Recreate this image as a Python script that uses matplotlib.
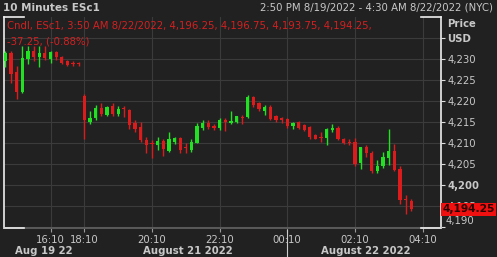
import pandas as pd
import matplotlib
matplotlib.use('Agg')
import matplotlib.pyplot as plt

# 10 minute bars, Friday afternoon then Sunday evening session
fri_times = pd.date_range('2022-08-19 14:50', '2022-08-19 17:00', freq='10min')
sun_times = pd.date_range('2022-08-21 18:10', '2022-08-22 03:50', freq='10min')
bar_times = list(fri_times) + list(sun_times)

opens = [4229.5, 4231.5, 4227.0, 4222.25, 4230.0, 4232.0, 4230.5, 4231.5, 4230.0, 4231.75,
         4230.5, 4229.5, 4229.0, 4229.0, 4221.25, 4215.0, 4216.0, 4218.25, 4216.75, 4218.75,
         4217.0, 4218.25, 4217.75, 4214.75, 4213.75, 4210.75, 4210.0, 4209.5, 4210.5, 4208.0,
         4210.25, 4211.25, 4209.0, 4208.25, 4210.0, 4213.5, 4214.75, 4214.0, 4213.5, 4215.5,
         4214.75, 4215.0, 4216.25, 4216.25, 4221.0, 4219.5, 4217.5, 4218.5, 4216.5, 4216.0,
         4215.75, 4214.0, 4215.0, 4214.25, 4213.75, 4212.0, 4211.5, 4211.25, 4213.0, 4213.5,
         4211.0, 4210.25, 4210.25, 4205.25, 4209.0, 4207.5, 4203.25, 4204.5, 4206.5, 4208.0,
         4203.75, 4196.75, 4196.25]
highs = [4232.0, 4232.0, 4228.25, 4233.0, 4233.0, 4233.0, 4233.0, 4233.0, 4232.0, 4232.0,
         4230.75, 4229.75, 4229.5, 4229.25, 4221.75, 4217.5, 4219.0, 4219.5, 4218.75, 4219.5,
         4218.75, 4218.75, 4218.0, 4215.5, 4215.0, 4211.5, 4210.75, 4211.5, 4211.0, 4212.5,
         4211.5, 4211.5, 4210.0, 4211.0, 4214.75, 4215.5, 4215.5, 4214.5, 4216.0, 4216.0,
         4217.5, 4216.5, 4216.75, 4221.5, 4221.25, 4219.75, 4219.0, 4219.0, 4216.75, 4216.25,
         4216.0, 4215.0, 4215.25, 4214.5, 4214.0, 4212.25, 4212.5, 4213.5, 4214.5, 4214.0,
         4211.25, 4211.0, 4211.25, 4209.0, 4209.5, 4208.0, 4206.0, 4207.75, 4213.25, 4209.75,
         4204.5, 4197.5, 4196.75]
lows = [4228.0, 4224.25, 4220.5, 4222.0, 4228.75, 4229.5, 4228.0, 4229.75, 4229.0, 4229.75,
        4228.75, 4228.25, 4228.25, 4228.25, 4211.0, 4214.5, 4215.5, 4216.5, 4216.5, 4216.5,
        4216.5, 4216.25, 4213.25, 4212.5, 4210.25, 4207.5, 4206.5, 4208.25, 4207.0, 4207.75,
        4209.75, 4207.5, 4207.5, 4207.75, 4210.0, 4213.0, 4213.25, 4213.0, 4213.0, 4212.75,
        4214.5, 4214.75, 4214.5, 4216.0, 4218.5, 4217.5, 4216.75, 4215.5, 4215.0, 4214.75,
        4213.5, 4213.25, 4213.25, 4212.75, 4211.0, 4211.0, 4210.25, 4209.5, 4212.5, 4210.75,
        4209.75, 4209.5, 4204.5, 4203.75, 4206.75, 4202.75, 4202.75, 4204.0, 4204.75, 4203.25,
        4195.5, 4193.0, 4193.75]
closes = [4231.5, 4226.5, 4222.25, 4230.25, 4232.0, 4230.5, 4231.5, 4230.25, 4231.75, 4230.5,
          4229.0, 4228.5, 4228.75, 4228.75, 4215.5, 4216.0, 4218.25, 4217.0, 4218.5, 4217.0,
          4218.0, 4218.0, 4214.25, 4213.25, 4210.75, 4209.5, 4209.75, 4210.5, 4208.5, 4211.0,
          4211.25, 4208.25, 4208.75, 4210.25, 4214.0, 4214.75, 4213.75, 4213.5, 4215.5, 4215.0,
          4215.25, 4216.5, 4216.0, 4221.0, 4219.0, 4218.0, 4218.5, 4215.75, 4215.5, 4215.5,
          4214.0, 4214.75, 4213.5, 4213.0, 4211.5, 4211.0, 4211.25, 4213.25, 4213.5, 4211.0,
          4210.0, 4210.0, 4205.0, 4209.0, 4207.5, 4203.25, 4204.5, 4206.75, 4208.0, 4203.5,
          4196.5, 4196.5, 4194.25]

time_ticks = ['16:10', '18:10', '20:10', '22:10', '00:10', '02:10', '04:10']
price_ticks = [4190, 4195, 4200, 4205, 4210, 4215, 4220, 4225, 4230]
date_labels = ['Aug 19 22', 'August 21 2022', 'August 22 2022']

bg = '#212121'
txt = '#c8c8c8'
up_col = '#22e022'
dn_col = '#dc1c1c'

fig = plt.figure(figsize=(4.97, 2.57), dpi=100, facecolor=bg)
ax = fig.add_axes([4/497, 29/257, 437/497, 211/257], facecolor=bg)

pos = list(range(len(bar_times)))
# the axis runs on to 04:30 with no bars
n_total = len(pos) + 4

cols = [up_col if c >= o else dn_col for o, c in zip(opens, closes)]
ax.vlines(pos, lows, highs, colors=cols, linewidth=1, zorder=3)
bottoms = [min(o, c) for o, c in zip(opens, closes)]
heights = [max(abs(c - o), 0.22) for o, c in zip(opens, closes)]
ax.bar(pos, heights, bottom=bottoms, width=0.58, color=cols, linewidth=0, zorder=4)

ax.set_xlim(-0.25, n_total + 0.28)
ax.set_ylim(4189.76, 4240)

labels_all = [t.strftime('%H:%M') for t in bar_times] + ['04:00', '04:10', '04:20', '04:30']
xt = [labels_all.index(t) for t in time_ticks]
ax.set_xticks(xt)
ax.set_xticklabels(time_ticks, color=txt, fontsize=7.3)
ax.tick_params(axis='x', length=3, width=0.8, color='#9a9a9a', pad=2)

ax.yaxis.tick_right()
ax.set_yticks(price_ticks + [4235])
# 4,190 is drawn by hand a little higher, as in the source
ylabs = [''] + ['{:,}'.format(v) for v in price_ticks[1:]] + ['']
ax.set_yticklabels(ylabs, color=txt, fontsize=7.3)
for lab in ax.get_yticklabels():
    if lab.get_text() == '4,200':
        lab.set_fontweight('bold')
ax.tick_params(axis='y', length=3, width=0.8, color='#dddddd', pad=2)
fig.text(446/497, 1 - 221/257, '{:,}'.format(price_ticks[0]), color=txt, fontsize=7.3,
         va='center', ha='left')

ax.grid(True, color='#3b3b3b', linewidth=0.8, zorder=0)

for s in ['top', 'bottom']:
    ax.spines[s].set_visible(False)
for s in ['left', 'right']:
    ax.spines[s].set_color('#eeeeee')
    ax.spines[s].set_linewidth(1.2)
ax.axhline(4189.76, color='#5a5a5a', linewidth=1.4, zorder=5, clip_on=False)
# white corner marks
for x0, x1 in [(0, 20/437), (417/437, 1)]:
    ax.plot([x0, x1], [1, 1], color='#eeeeee', lw=1.2, transform=ax.transAxes, clip_on=False, zorder=6)
    ax.plot([x0, x1], [0, 0], color='#eeeeee', lw=1.2, transform=ax.transAxes, clip_on=False, zorder=6)

# day separator
ax.plot([labels_all.index('00:10')] * 2, [-0.01, -0.14], color='#cccccc', lw=0.8,
        transform=ax.get_xaxis_transform(), clip_on=False)

# date row
for lab, xp in zip(date_labels, [44, 188, 366]):
    fig.text(xp/497, 1 - 251/257, lab, color=txt, fontsize=7.3, fontweight='bold',
             ha='center', va='center')

fig.text(3/497, 1 - 8/257, '10 Minutes ESc1', color=txt, fontsize=7.5, fontweight='bold',
         ha='left', va='center')
fig.text(493/497, 1 - 8/257, '2:50 PM 8/19/2022 - 4:30 AM 8/22/2022 (NYC)', color=txt,
         fontsize=7.3, ha='right', va='center')
fig.text(447/497, 1 - 24/257, 'Price', color=txt, fontsize=7.3, fontweight='bold', va='center')
fig.text(447/497, 1 - 39/257, 'USD', color=txt, fontsize=7.3, fontweight='bold', va='center')

last = closes[-1]
hdr = 'Cndl, ESc1, 3:50 AM 8/22/2022, {:,.2f}, {:,.2f}, {:,.2f}, {:,.2f},'.format(
    opens[-1], highs[-1], lows[-1], last)
fig.text(7/497, 1 - 26/257, hdr, color='#d42020', fontsize=7.3, va='center')
fig.text(7/497, 1 - 41/257, '-37.25, (-0.88%)', color='#d42020', fontsize=7.3, va='center')

# last price tag
ax.text(1.003, last, '{:,.2f}'.format(last), transform=ax.get_yaxis_transform(),
        color='#2a0000', fontsize=7.7, fontweight='bold', va='center', ha='left',
        bbox=dict(boxstyle='square,pad=0.15', fc='#f01010', ec='none'), zorder=10, clip_on=False)

fig.savefig('out.png', dpi=100, facecolor=bg)
